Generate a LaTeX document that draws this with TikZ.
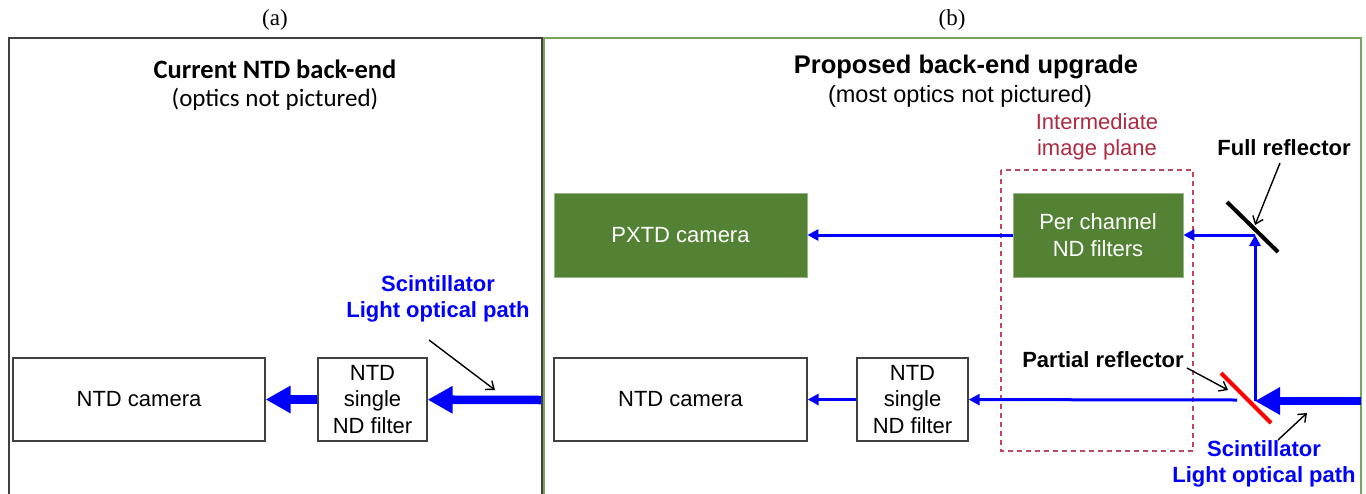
\documentclass[tikz,border=0pt]{standalone}
\usepackage{fontspec}
\setmainfont{Liberation Sans}
\newfontfamily\carlitofont{Carlito}
\newfontfamily\timesfont{Liberation Serif}
\usetikzlibrary{arrows.meta}
\definecolor{flowblue}{RGB}{0,0,255}
\definecolor{boxgreen}{RGB}{84,130,53}
\definecolor{panelgreen}{RGB}{119,165,91}
\definecolor{crimsonc}{RGB}{176,42,66}
\definecolor{edgegray}{RGB}{64,64,64}
\begin{document}
\begin{tikzpicture}[x=1pt,y=-1pt,
  plainbox/.style={draw=edgegray, line width=1.3pt, fill=white, inner sep=0pt, align=center, font=\fontsize{22}{26.5}\selectfont},
  greenbox/.style={fill=boxgreen, draw=boxgreen!60!white, line width=0.8pt, text=white, inner sep=0pt, align=center, font=\fontsize{22}{26.5}\selectfont},
  thinflow/.style={draw=flowblue, line width=3pt, -{Triangle[length=11pt,width=11pt]}},
  thickflow/.style={draw=flowblue, line width=8.5pt, -{Triangle[length=25pt,width=26pt]}},
  pointer/.style={draw=black, line width=1.4pt, -{Straight Barb[length=7pt,width=11pt]}},
  boldlabel/.style={font=\bfseries\fontsize{22}{26}\selectfont, align=center, inner sep=0pt},
  caplabel/.style={font=\timesfont\fontsize{23}{27}\selectfont, inner sep=0pt},
]
\useasboundingbox (0,0) rectangle (1366,493);
\fill[white] (0,0) rectangle (1366,493);

% captions
\node[caplabel] (capa) at (275,20) {(a)};
\node[caplabel] (capb) at (952,20) {(b)};

% panels
\draw[edgegray, line width=2pt] (9,500) -- (9,38) -- (542,38) -- (542,500);
\draw[panelgreen, line width=2pt] (544,500) -- (544,38) -- (1361,38) -- (1361,500);

% left panel
\node[font=\carlitofont\bfseries\fontsize{26.5}{30}\selectfont, inner sep=0pt] (titleL) at (275,69) {Current NTD back-end};
\node[font=\carlitofont\fontsize{25}{30}\selectfont, inner sep=0pt] (subL) at (275,99) {(optics not pictured)};

\node[plainbox, minimum width=252pt, minimum height=83pt] (camL) at (139,399.5) {NTD camera};
\node[plainbox, minimum width=109pt, minimum height=83pt] (filterL) at (372.5,399.5) {NTD\\single\\ND filter};
\coordinate (srcL) at (541,400);
\draw[thickflow] (srcL) -- (filterL);
\draw[thickflow] (filterL) -- (camL);

\node[boldlabel, text=flowblue] (scintL) at (438,299) {Scintillator\\Light optical path};
\coordinate (pL1) at (429,340);
\coordinate (pL2) at (495,390);
\draw[pointer] (pL1) -- (pL2);

% right panel
\node[font=\bfseries\fontsize{25.5}{30}\selectfont, inner sep=0pt] (titleR) at (966,67) {Proposed back-end upgrade};
\node[font=\fontsize{23.5}{28}\selectfont, inner sep=0pt] (subR) at (960,96) {(most optics not pictured)};

\node[font=\fontsize{22}{26}\selectfont, text=crimsonc, align=center, inner sep=0pt] (imgp) at (1097,137) {Intermediate\\image plane};
\draw[crimsonc!85!white, line width=1.5pt, dash pattern=on 5pt off 4pt] (1001,170) rectangle (1193,451);

\node[greenbox, minimum width=253pt, minimum height=84pt] (pxtd) at (680.5,235) {PXTD camera};
\node[greenbox, minimum width=170pt, minimum height=84pt] (perch) at (1098,235) {Per channel\\ND filters};
\node[plainbox, minimum width=253pt, minimum height=83pt] (camR) at (680.5,399.5) {NTD camera};
\node[plainbox, minimum width=111pt, minimum height=83pt] (filterR) at (912.5,399.5) {NTD\\single\\ND filter};

% reflectors
\draw[black, line width=4pt] (1227,202) -- (1278,252);
\draw[red, line width=4pt] (1221,373) -- (1271,423);

% light paths
\coordinate (fm) at (1255,235);
\coordinate (pmv) at (1255,401);
\coordinate (pml) at (1237,400);
\coordinate (srcR) at (1361,401);
\draw[thickflow] (srcR) -- (pmv);
\draw[thinflow] (pmv) -- (fm);
\draw[thinflow] (fm) -- (perch);
\draw[thinflow] (perch) -- (pxtd);
\draw[thinflow] (pml) -- (filterR);
\draw[thinflow] (filterR) -- (camR);

% labels
\node[boldlabel] (fullr) at (1284,148) {Full reflector};
\coordinate (pF1) at (1280,163);
\coordinate (pF2) at (1255,225);
\draw[pointer] (pF1) -- (pF2);

\node[boldlabel] (partr) at (1103,360) {Partial reflector};
\coordinate (pP1) at (1187,368);
\coordinate (pP2) at (1228,390);
\draw[pointer] (pP1) -- (pP2);

\node[boldlabel, text=flowblue] (scintR) at (1264,464) {Scintillator\\Light optical path};
\coordinate (pS1) at (1278,440);
\coordinate (pS2) at (1307,413);
\draw[pointer] (pS1) -- (pS2);
\end{tikzpicture}
\end{document}
